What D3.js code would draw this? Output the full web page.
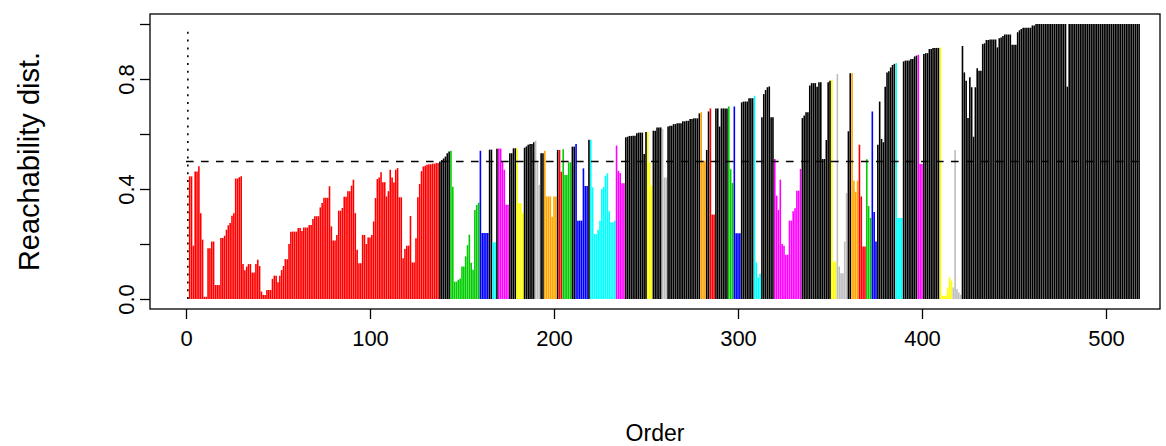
<!DOCTYPE html>
<html>
<head>
<meta charset="utf-8">
<script src="https://cdn.jsdelivr.net/npm/d3@7/dist/d3.min.js"></script>
<style>
  html, body { margin: 0; padding: 0; background: #ffffff; }
  svg { display: block; }
  text { font-family: "Liberation Sans", Arial, Helvetica, sans-serif; fill: #000; }
</style>
</head>
<body>
<svg id="chart" width="1166" height="446"></svg>
<script>
// OPTICS reachability distances, in cluster order (first point has no predecessor: Inf)
const reachability = [
  Infinity, 0.446, 0.446, 0.194, 0.464, 0.464, 0.483, 0.312, 0.216, 0.008,
  0.008, 0.185, 0.185, 0.209, 0.209, 0.051, 0.051, 0.051, 0.222, 0.222,
  0.230, 0.252, 0.268, 0.276, 0.303, 0.312, 0.438, 0.438, 0.443, 0.446,
  0.127, 0.105, 0.118, 0.127, 0.127, 0.096, 0.096, 0.127, 0.143, 0.120,
  0.027, 0.015, 0.015, 0.033, 0.033, 0.033, 0.073, 0.085, 0.085, 0.061,
  0.085, 0.105, 0.120, 0.145, 0.145, 0.200, 0.245, 0.245, 0.245, 0.245,
  0.258, 0.258, 0.247, 0.260, 0.260, 0.260, 0.269, 0.269, 0.291, 0.301,
  0.301, 0.301, 0.333, 0.349, 0.368, 0.368, 0.368, 0.410, 0.264, 0.213,
  0.213, 0.233, 0.321, 0.321, 0.331, 0.372, 0.372, 0.392, 0.392, 0.412,
  0.434, 0.312, 0.179, 0.130, 0.130, 0.233, 0.233, 0.200, 0.224, 0.224,
  0.233, 0.282, 0.367, 0.436, 0.442, 0.461, 0.425, 0.425, 0.373, 0.392,
  0.470, 0.442, 0.424, 0.470, 0.476, 0.370, 0.370, 0.148, 0.182, 0.194,
  0.194, 0.302, 0.133, 0.133, 0.221, 0.370, 0.418, 0.465, 0.482, 0.485,
  0.488, 0.490, 0.490, 0.492, 0.492, 0.494, 0.495, 0.500, 0.505, 0.511,
  0.518, 0.530, 0.536, 0.539, 0.408, 0.063, 0.063, 0.070, 0.075, 0.118,
  0.118, 0.155, 0.196, 0.234, 0.132, 0.106, 0.324, 0.342, 0.350, 0.539,
  0.240, 0.240, 0.240, 0.240, 0.543, 0.543, 0.206, 0.206, 0.546, 0.547,
  0.547, 0.500, 0.470, 0.343, 0.343, 0.530, 0.530, 0.548, 0.548, 0.548,
  0.348, 0.348, 0.312, 0.550, 0.555, 0.561, 0.564, 0.564, 0.570, 0.576,
  0.497, 0.415, 0.530, 0.530, 0.539, 0.373, 0.373, 0.373, 0.299, 0.373,
  0.373, 0.542, 0.542, 0.463, 0.545, 0.451, 0.451, 0.497, 0.497, 0.554,
  0.554, 0.564, 0.285, 0.285, 0.285, 0.475, 0.411, 0.411, 0.579, 0.579,
  0.406, 0.236, 0.236, 0.251, 0.285, 0.400, 0.408, 0.448, 0.457, 0.319,
  0.279, 0.279, 0.285, 0.558, 0.466, 0.458, 0.421, 0.421, 0.588, 0.590,
  0.593, 0.593, 0.594, 0.594, 0.603, 0.605, 0.605, 0.605, 0.527, 0.607,
  0.608, 0.496, 0.412, 0.612, 0.612, 0.624, 0.624, 0.624, 0.618, 0.442,
  0.442, 0.627, 0.630, 0.630, 0.636, 0.636, 0.639, 0.639, 0.639, 0.646,
  0.646, 0.648, 0.648, 0.655, 0.655, 0.657, 0.657, 0.657, 0.675, 0.679,
  0.503, 0.503, 0.542, 0.682, 0.693, 0.307, 0.307, 0.693, 0.693, 0.627,
  0.693, 0.693, 0.693, 0.693, 0.700, 0.472, 0.422, 0.700, 0.239, 0.239,
  0.239, 0.715, 0.718, 0.718, 0.718, 0.730, 0.730, 0.730, 0.739, 0.133,
  0.078, 0.092, 0.661, 0.745, 0.760, 0.770, 0.773, 0.661, 0.661, 0.509,
  0.376, 0.324, 0.434, 0.200, 0.194, 0.161, 0.161, 0.285, 0.285, 0.319,
  0.330, 0.394, 0.394, 0.473, 0.658, 0.667, 0.679, 0.679, 0.776, 0.785,
  0.785, 0.785, 0.772, 0.788, 0.788, 0.509, 0.509, 0.578, 0.788, 0.794,
  0.797, 0.136, 0.136, 0.818, 0.118, 0.094, 0.094, 0.209, 0.385, 0.610,
  0.821, 0.821, 0.430, 0.390, 0.430, 0.561, 0.373, 0.191, 0.191, 0.508,
  0.338, 0.295, 0.682, 0.316, 0.209, 0.561, 0.718, 0.582, 0.570, 0.772,
  0.824, 0.828, 0.842, 0.851, 0.855, 0.858, 0.295, 0.295, 0.295, 0.864,
  0.867, 0.867, 0.867, 0.873, 0.873, 0.882, 0.885, 0.888, 0.491, 0.491,
  0.891, 0.894, 0.894, 0.909, 0.909, 0.913, 0.913, 0.913, 0.913, 0.915,
  0.012, 0.012, 0.012, 0.042, 0.079, 0.067, 0.042, 0.542, 0.036, 0.024,
  0.015, 0.920, 0.824, 0.794, 0.658, 0.806, 0.770, 0.590, 0.770, 0.839,
  0.830, 0.830, 0.927, 0.930, 0.942, 0.942, 0.944, 0.944, 0.944, 0.944,
  0.915, 0.948, 0.951, 0.956, 0.962, 0.962, 0.962, 0.962, 0.925, 0.925,
  0.925, 0.970, 0.977, 0.982, 0.986, 0.986, 0.986, 0.986, 0.986, 0.995,
  0.995, 1.000, 1.000, 1.000, 1.000, 1.000, 1.000, 1.000, 1.000, 1.000,
  1.000, 1.000, 1.000, 1.000, 1.000, 1.000, 1.000, 1.000, 0.772, 1.000,
  1.000, 1.000, 1.000, 1.000, 1.000, 1.000, 1.000, 1.000, 1.000, 1.000,
  1.000, 1.000, 1.000, 1.000, 1.000, 1.000, 1.000, 1.000, 1.000, 1.000,
  1.000, 1.000, 1.000, 1.000, 1.000, 1.000, 1.000, 1.000, 1.000, 1.000,
  1.000, 1.000, 1.000, 1.000, 1.000, 1.000, 1.000, 1.000
];

// Cluster membership along the ordering, as runs of [cluster code, length]
const clusterRuns = [
  ["K", 1], ["R", 136], ["K", 6], ["G", 16], ["B", 5], ["K", 2], ["C", 2], ["K", 1],
  ["M", 6], ["K", 4], ["Y", 4], ["K", 6], ["L", 3], ["K", 2], ["O", 7], ["K", 1],
  ["R", 2], ["G", 5], ["K", 2], ["B", 7], ["K", 1], ["C", 14], ["M", 5], ["K", 12],
  ["Y", 3], ["K", 5], ["L", 3], ["K", 18], ["O", 3], ["K", 2], ["R", 3], ["K", 7],
  ["G", 3], ["B", 4], ["K", 7], ["C", 4], ["K", 7], ["M", 15], ["K", 16], ["Y", 3],
  ["L", 6], ["K", 2], ["O", 4], ["R", 4], ["G", 3], ["B", 3], ["K", 10], ["C", 4],
  ["K", 8], ["M", 3], ["K", 9], ["Y", 7], ["L", 5], ["K", 97]
];

const clusterColors = {
  K: "#000000", R: "#FF0000", G: "#00CD00", B: "#0000FF", C: "#00FFFF",
  M: "#FF00FF", Y: "#FFFF00", L: "#BEBEBE", O: "#FFA500"
};

const threshold = 0.5;                       // eps_cl cut line
const xTicks = [0, 100, 200, 300, 400, 500];
const yTicks = [0, 0.2, 0.4, 0.6, 0.8, 1.0];
const yTickLabels = ["0.0", "", "0.4", "", "0.8", ""];

// expand cluster runs into one code per ordered point
const clusterOf = clusterRuns.flatMap(([c, n]) => Array(n).fill(c));
const points = reachability.map((r, i) => ({ order: i + 1, reach: r, cl: clusterOf[i] }));

const svg = d3.select("#chart");
const box = { left: 150, right: 1160, top: 14, bottom: 309 };

const x = d3.scaleLinear().domain([0, 500]).range([186, 1106]);
const y = d3.scaleLinear().domain([0, 1]).range([299, 24]);

// reachability bars (finite values)
svg.append("g")
  .selectAll("line")
  .data(points.filter(d => isFinite(d.reach)))
  .join("line")
  .attr("x1", d => x(d.order)).attr("x2", d => x(d.order))
  .attr("y1", y(0)).attr("y2", d => y(d.reach))
  .attr("stroke", d => clusterColors[d.cl])
  .attr("stroke-width", 1.6);

// points with infinite reachability: dotted to the top of the range
svg.append("g")
  .selectAll("line")
  .data(points.filter(d => !isFinite(d.reach)))
  .join("line")
  .attr("x1", d => x(d.order)).attr("x2", d => x(d.order))
  .attr("y1", y(0)).attr("y2", y(0.975))
  .attr("stroke", "#000")
  .attr("stroke-width", 1.6)
  .attr("stroke-dasharray", "2,5.8");

// threshold line
svg.append("line")
  .attr("x1", x(0)).attr("x2", x(reachability.length))
  .attr("y1", y(threshold)).attr("y2", y(threshold))
  .attr("stroke", "#000")
  .attr("stroke-width", 1.7)
  .attr("stroke-dasharray", "7.6,7.4");

// plot frame
svg.append("rect")
  .attr("x", box.left).attr("y", box.top)
  .attr("width", box.right - box.left).attr("height", box.bottom - box.top)
  .attr("fill", "none").attr("stroke", "#000").attr("stroke-width", 1.3);

// x axis
const xAxis = d3.axisBottom(x).tickValues(xTicks).tickSize(10).tickPadding(0).tickFormat(d3.format("d"));
const gx = svg.append("g").attr("transform", `translate(0,${box.bottom})`).call(xAxis);
gx.select(".domain").remove();
gx.selectAll(".tick line").attr("stroke", "#000").attr("stroke-width", 1.3);
gx.selectAll(".tick text")
  .attr("y", 37).attr("dy", null)
  .style("font-size", "22px").style("font-family", "Liberation Sans, Arial, sans-serif");

// y axis with rotated labels
const yAxis = d3.axisLeft(y).tickValues(yTicks).tickSize(10).tickPadding(0)
  .tickFormat((d, i) => yTickLabels[i]);
const gy = svg.append("g").attr("transform", `translate(${box.left},0)`).call(yAxis);
gy.select(".domain").remove();
gy.selectAll(".tick line").attr("stroke", "#000").attr("stroke-width", 1.3);
gy.selectAll(".tick text")
  .attr("x", null).attr("dy", null)
  .attr("text-anchor", "middle")
  .attr("transform", "translate(-16,0) rotate(-90)")
  .style("font-size", "22px").style("font-family", "Liberation Sans, Arial, sans-serif");

// axis titles
svg.append("text")
  .attr("x", (box.left + box.right) / 2).attr("y", 441)
  .attr("text-anchor", "middle").style("font-size", "23px")
  .text("Order");

svg.append("text")
  .attr("transform", `translate(39,${(box.top + box.bottom) / 2}) rotate(-90)`)
  .attr("text-anchor", "middle").style("font-size", "29px")
  .text("Reachability dist.");
</script>
</body>
</html>
